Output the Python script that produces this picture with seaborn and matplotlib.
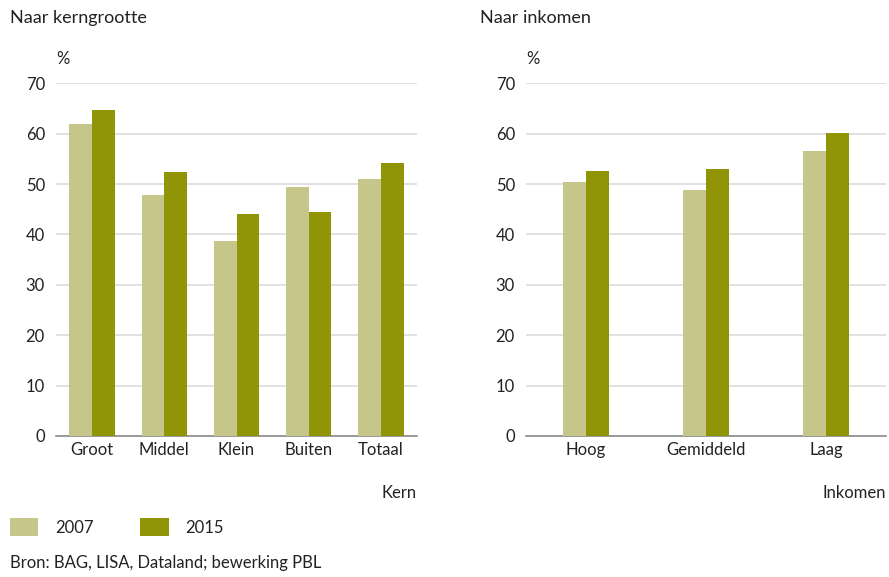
import matplotlib
matplotlib.use("Agg")
import matplotlib.pyplot as plt
import seaborn as sns
import pandas as pd
from matplotlib.patches import Patch

kern_categories = ["Groot", "Middel", "Klein", "Buiten", "Totaal"]
kern_2007 = [61.9, 47.8, 38.8, 49.5, 51.0]
kern_2015 = [64.7, 52.3, 44.0, 44.4, 54.1]

ink_categories = ["Hoog", "Gemiddeld", "Laag"]
ink_2007 = [50.4, 48.8, 56.5]
ink_2015 = [52.5, 53.0, 60.1]

years = ["2007", "2015"]
yticks = [0, 10, 20, 30, 40, 50, 60, 70]

c07 = "#c6c68b"
c15 = "#909508"
grid_c = "#dcdcdc"
txt = "#222222"

sns.set_theme(style="white")
plt.rcParams["font.family"] = ["Lato", "DejaVu Sans"]

def make_df(cats, v1, v2):
    return pd.DataFrame({
        "cat": cats * 2,
        "year": [years[0]] * len(cats) + [years[1]] * len(cats),
        "val": v1 + v2,
    })

fig = plt.figure(figsize=(8.89, 5.77), dpi=100)
W, H = 889, 577
ax1 = fig.add_axes([56 / W, 1 - 436 / H, (417 - 56) / W, (436 - 83.3) / H])
ax2 = fig.add_axes([526 / W, 1 - 436 / H, (886 - 526) / W, (436 - 83.3) / H])

panels = [
    (ax1, make_df(kern_categories, kern_2007, kern_2015), 0.63, "Kern"),
    (ax2, make_df(ink_categories, ink_2007, ink_2015), 0.378, "Inkomen"),
]

for ax, df, w, xl in panels:
    sns.barplot(data=df, x="cat", y="val", hue="year", palette=[c07, c15],
                width=w, gap=0, ax=ax, legend=False, saturation=1,
                linewidth=0, zorder=3)
    ax.set_ylim(0, 70)
    ax.set_yticks(yticks)
    ax.set_yticklabels([str(t) for t in yticks])
    ax.set_xlim(-0.5, len(df["cat"].unique()) - 0.5)
    ax.yaxis.grid(True, color=grid_c, linewidth=1.2, zorder=0)
    ax.set_axisbelow(True)
    for s in ["top", "right", "left"]:
        ax.spines[s].set_visible(False)
    ax.spines["bottom"].set_color("#8a8a8a")
    ax.spines["bottom"].set_linewidth(1.2)
    ax.tick_params(axis="y", length=0, pad=8, labelsize=12, colors=txt)
    ax.tick_params(axis="x", length=0, pad=4, labelsize=12, colors=txt)
    ax.set_xlabel("")
    ax.set_ylabel("")
    ax.text(0, 1.045, "%", transform=ax.transAxes, fontsize=12, color=txt,
            ha="left", va="bottom")
    ax.text(1.0, -0.14, xl, transform=ax.transAxes, fontsize=12, color=txt,
            ha="right", va="top")

fig.text(10 / W, 1 - 18 / H, "Naar kerngrootte", fontsize=13, color=txt, ha="left", va="center")
fig.text(480 / W, 1 - 18 / H, "Naar inkomen", fontsize=13, color=txt, ha="left", va="center")

handles = [Patch(facecolor=c07, edgecolor="none"), Patch(facecolor=c15, edgecolor="none")]
fig.legend(handles, years, loc="center left", bbox_to_anchor=(10 / W, 1 - 527 / H),
           ncol=2, frameon=False, fontsize=12, handlelength=1.7, handleheight=1.2,
           columnspacing=2.8, handletextpad=1.0, labelcolor=txt,
           borderpad=0, borderaxespad=0)

fig.text(10 / W, 1 - 563 / H, "Bron: BAG, LISA, Dataland; bewerking PBL",
         fontsize=12, color=txt, ha="left", va="center")

fig.savefig("out.png", dpi=100)
